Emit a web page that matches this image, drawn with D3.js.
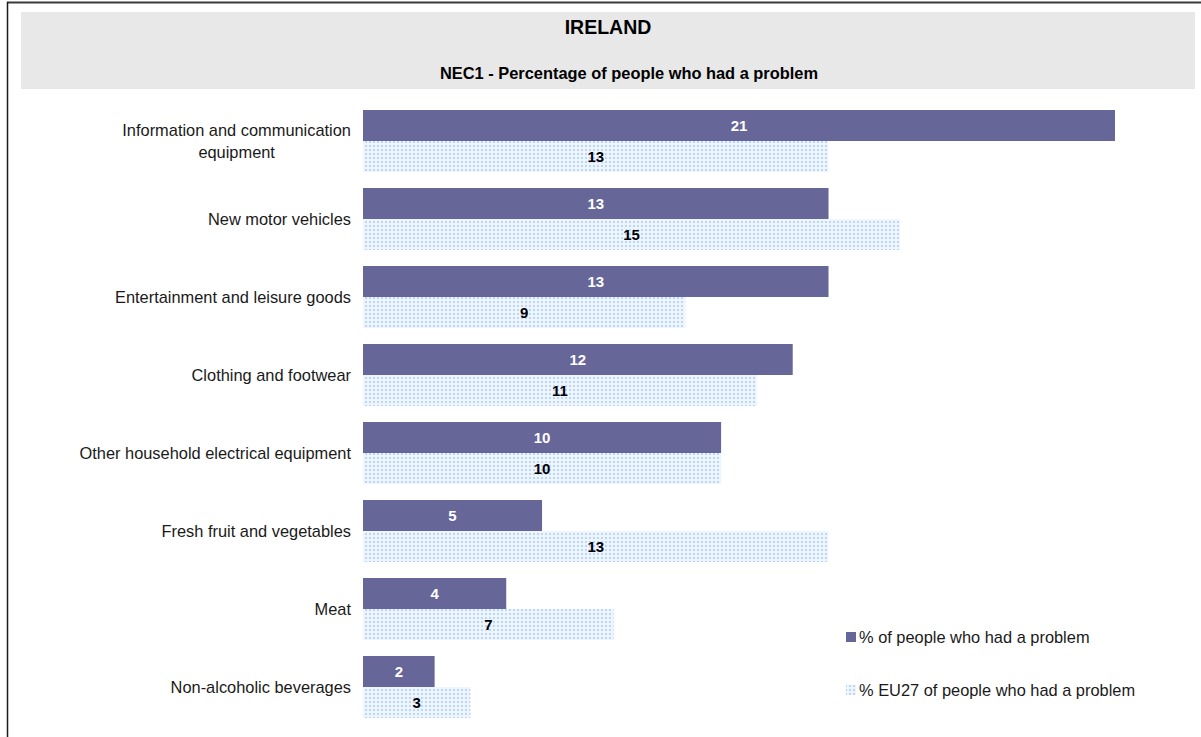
<!DOCTYPE html>
<html>
<head>
<meta charset="utf-8">
<script src="https://cdn.jsdelivr.net/npm/d3@7/dist/d3.min.js"></script>
<style>
  html, body { margin: 0; padding: 0; background: #fff; }
  svg { display: block; font-family: "Liberation Sans", Arial, sans-serif; }
</style>
</head>
<body>
<svg id="chart" width="1201" height="737"></svg>
<script>
// Product categories, top to bottom
const categories = [
  "Information and communication equipment",
  "New motor vehicles",
  "Entertainment and leisure goods",
  "Clothing and footwear",
  "Other household electrical equipment",
  "Fresh fruit and vegetables",
  "Meat",
  "Non-alcoholic beverages"
];
// % of people in Ireland who had a problem
const irelandValues = [21, 13, 13, 12, 10, 5, 4, 2];
// % across EU27 who had a problem
const eu27Values = [13, 15, 9, 11, 10, 13, 7, 3];
const seriesNames = [
  "% of people who had a problem",
  "% EU27 of people who had a problem"
];
const chartTitle = "IRELAND";
const chartSubtitle = "NEC1 - Percentage of people who had a problem";

const svg = d3.select("#chart");
const W = 1201, H = 737;

// Dotted fill used for the EU27 series
const defs = svg.append("defs");
const pat = defs.append("pattern")
  .attr("id", "dots")
  .attr("patternUnits", "userSpaceOnUse")
  .attr("width", 4).attr("height", 4);
pat.append("rect").attr("width", 4).attr("height", 4).attr("fill", "#eef5ff");
pat.append("rect").attr("x", 1).attr("y", 1).attr("width", 2).attr("height", 2).attr("fill", "#b9d7fa");

// Frame lines (top and left)
svg.append("line").attr("x1", 7).attr("x2", W).attr("y1", 2.5).attr("y2", 2.5)
  .attr("stroke", "#3a3a3a").attr("stroke-width", 2);
svg.append("line").attr("x1", 7.5).attr("x2", 7.5).attr("y1", 2).attr("y2", H)
  .attr("stroke", "#1a1a1a").attr("stroke-width", 1.5);

// Title block
svg.append("rect").attr("x", 21).attr("y", 12).attr("width", 1174).attr("height", 77)
  .attr("fill", "#e8e8e8");
svg.append("text").attr("x", 608).attr("y", 34)
  .attr("text-anchor", "middle").attr("font-size", 19.5).attr("font-weight", "bold")
  .attr("fill", "#000").text(chartTitle);
svg.append("text").attr("x", 629).attr("y", 79)
  .attr("text-anchor", "middle").attr("font-size", 16.4).attr("font-weight", "bold")
  .attr("fill", "#000").text(chartSubtitle);

// Scales
const x = d3.scaleLinear().domain([0, 21]).range([363, 1115]);
const y = d3.scaleBand().domain(categories).range([102, 726]).paddingInner(0.2051).paddingOuter(0.1026);
const barH = y.bandwidth() / 2;

const rows = categories.map((c, i) => ({ cat: c, ie: irelandValues[i], eu: eu27Values[i] }));

const g = svg.append("g");

// Ireland bars
g.selectAll("rect.ie").data(rows).join("rect")
  .attr("class", "ie")
  .attr("x", x(0)).attr("y", d => y(d.cat))
  .attr("width", d => x(d.ie) - x(0)).attr("height", barH)
  .attr("fill", "#666699");

// EU27 bars
g.selectAll("rect.eu").data(rows).join("rect")
  .attr("class", "eu")
  .attr("x", x(0)).attr("y", d => y(d.cat) + barH)
  .attr("width", d => x(d.eu) - x(0)).attr("height", barH)
  .attr("fill", "url(#dots)");

// Value labels
g.selectAll("text.ie").data(rows).join("text")
  .attr("class", "ie")
  .attr("x", d => (x(0) + x(d.ie)) / 2).attr("y", d => y(d.cat) + barH / 2)
  .attr("dy", "0.36em").attr("text-anchor", "middle")
  .attr("font-size", 15).attr("font-weight", "bold").attr("fill", "#fff")
  .text(d => d.ie);
g.selectAll("text.eu").data(rows).join("text")
  .attr("class", "eu")
  .attr("x", d => (x(0) + x(d.eu)) / 2).attr("y", d => y(d.cat) + barH * 1.5)
  .attr("dy", "0.36em").attr("text-anchor", "middle")
  .attr("font-size", 15).attr("font-weight", "bold").attr("fill", "#000")
  .text(d => d.eu);

// Category labels, wrapped to fit the left margin
const labelX = 351, maxLabelW = 290, lineH = 22, labelSize = 16.4;
rows.forEach(d => {
  const cy = y(d.cat) + y.bandwidth() / 2;
  const t = g.append("text").attr("text-anchor", "middle")
    .attr("font-size", labelSize).attr("fill", "#1a1a1a");
  const words = d.cat.split(" ");
  const lines = [];
  let cur = [];
  const probe = t.append("tspan");
  words.forEach(w => {
    const test = cur.concat([w]).join(" ");
    probe.text(test);
    if (probe.node().getComputedTextLength() > maxLabelW && cur.length) {
      lines.push(cur.join(" "));
      cur = [w];
    } else cur.push(w);
  });
  lines.push(cur.join(" "));
  probe.remove();
  // widest line sets the block so lines centre within it, right-aligned to the axis
  const widths = lines.map(l => { const s = t.append("tspan").text(l); const w = s.node().getComputedTextLength(); s.remove(); return w; });
  const blockW = d3.max(widths);
  const cx = labelX - blockW / 2;
  lines.forEach((l, i) => {
    t.append("tspan").attr("x", cx)
      .attr("y", cy + (i - (lines.length - 1) / 2) * lineH)
      .attr("dy", "0.35em").text(l);
  });
});

// Legend
const legend = svg.append("g");
const legendItems = [
  { name: seriesNames[0], fill: "#666699", y: 637 },
  { name: seriesNames[1], fill: "url(#dots)", y: 690 }
];
legendItems.forEach(it => {
  legend.append("rect").attr("x", 846).attr("y", it.y - 5).attr("width", 10).attr("height", 10)
    .attr("fill", it.fill);
  legend.append("text").attr("x", 859).attr("y", it.y).attr("dy", "0.35em")
    .attr("font-size", labelSize).attr("fill", "#1a1a1a").text(it.name);
});
</script>
</body>
</html>
